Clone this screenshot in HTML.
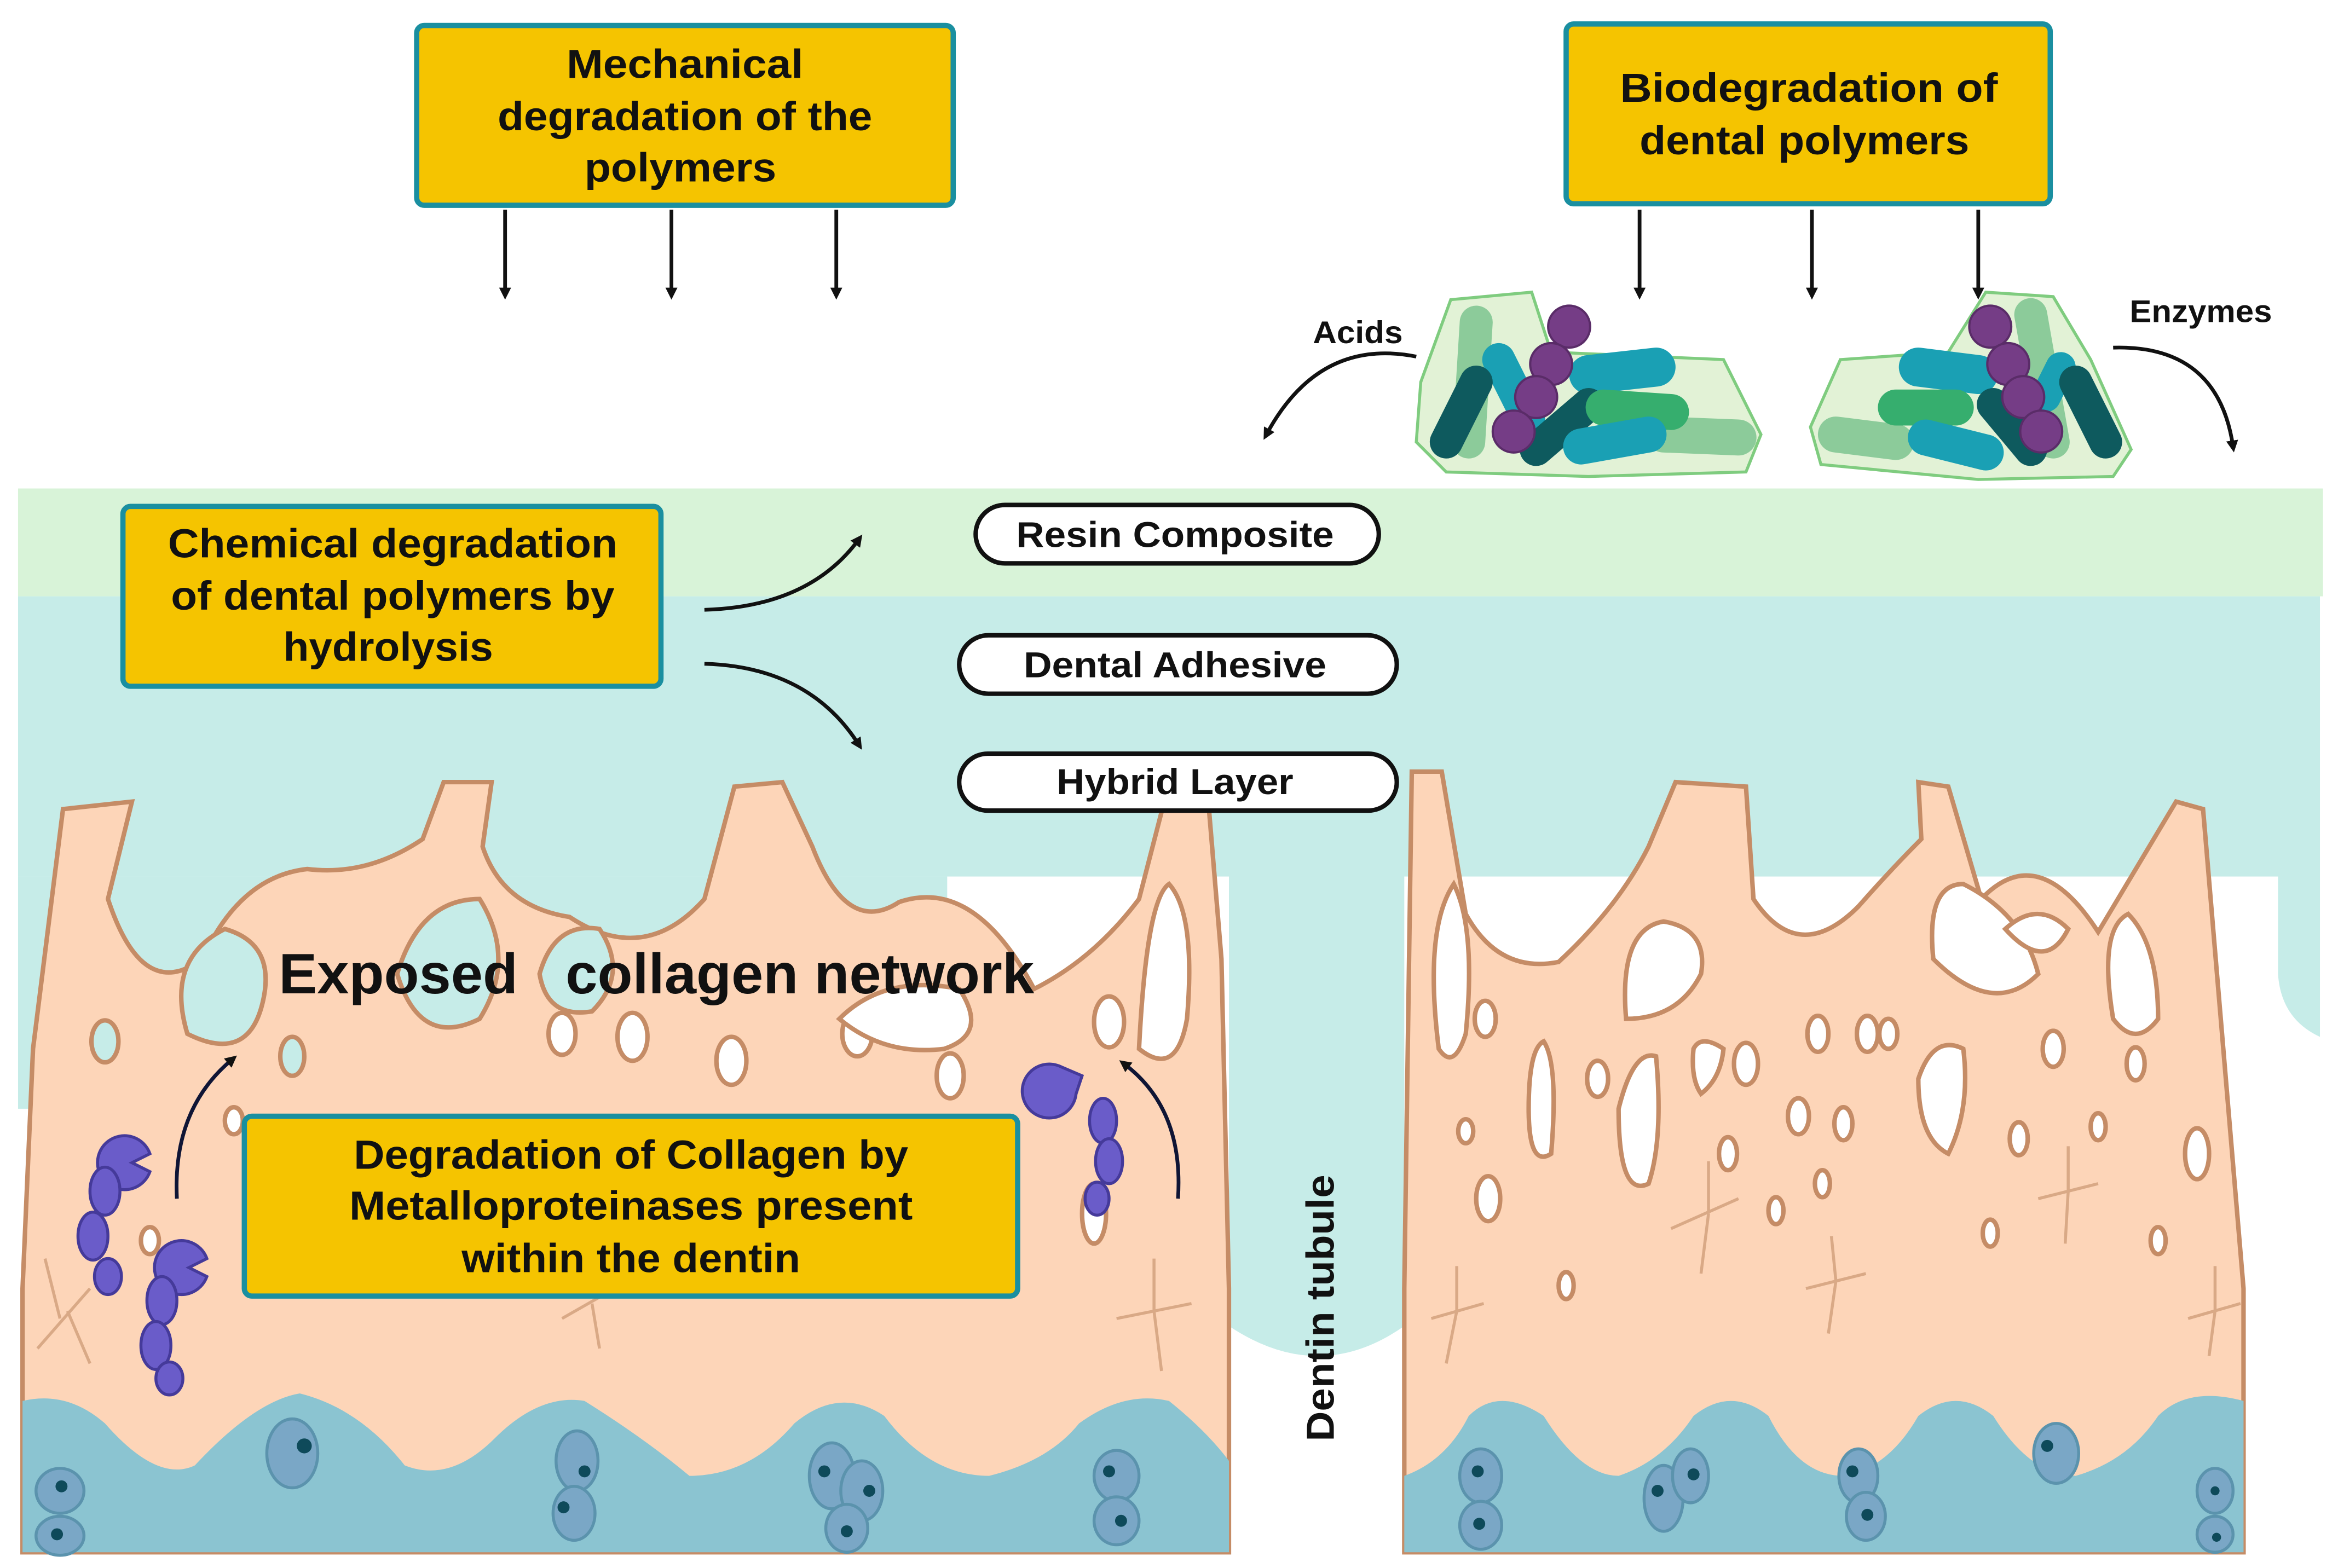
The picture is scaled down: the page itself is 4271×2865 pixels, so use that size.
<!DOCTYPE html>
<html><head><meta charset="utf-8"><style>html,body{margin:0;padding:0;background:#fff}svg{display:block}</style></head>
<body>
<svg width="4271" height="2865" viewBox="0 0 1560 1046.5" xmlns="http://www.w3.org/2000/svg" font-family="Liberation Sans, sans-serif" font-weight="bold">
<defs>
<marker id="ah" markerWidth="8" markerHeight="8" refX="4" refY="4" orient="auto" markerUnits="userSpaceOnUse"><path d="M0,0 L8,4 L0,8 Z" fill="#111"/></marker>
</defs>
<rect width="1560" height="1046.5" fill="#fff"/>
<!-- layers -->
<rect x="12" y="326" width="1538" height="72" fill="#d8f3d8"/>
<rect x="12" y="398" width="1536" height="187" fill="#c6ece8"/>
<rect x="12" y="585" width="620" height="155" fill="#c6ece8"/>
<path d="M1520,585 L1548,585 L1548,692 Q1522,680 1520,650 Z" fill="#c6ece8"/>
<path d="M820,585 L937,585 L937,885 Q880,925 820,885 Z" fill="#c6ece8"/>
<!-- left dentin -->
<path d="M15,1036 L15,860 L22,700 L42,540 L88,535 L72,600 Q95,670 135,640 Q160,585 205,580 Q245,585 282,560 L296,522 L328,522 L322,565 Q335,605 380,612 Q430,645 470,600 L490,525 L522,522 L542,565 Q565,625 600,602 Q650,585 690,660 Q730,640 760,600 L782,515 L805,520 L815,640 L820,860 L820,1036 Z" fill="#fdd5b8" stroke="#c58c66" stroke-width="3"/>
<!-- right dentin -->
<path d="M937,1036 L937,860 L942,515 L962,515 L978,610 Q1000,650 1040,642 Q1080,605 1100,565 L1118,522 L1165,525 L1170,600 Q1200,645 1240,605 Q1262,580 1282,560 L1280,522 L1300,525 L1322,600 Q1360,560 1400,622 L1452,535 L1470,540 L1497,860 L1497,1036 Z" fill="#fdd5b8" stroke="#c58c66" stroke-width="3"/>
<!-- holes left -->
<g fill="#c6ece8" stroke="#c58c66" stroke-width="3">
<path d="M125,690 Q110,640 150,620 Q185,630 175,670 Q165,710 125,690Z"/>
<path d="M265,650 Q280,600 320,600 Q345,640 320,680 Q280,700 265,650Z"/>
<path d="M360,650 Q370,615 400,620 Q420,650 395,675 Q365,680 360,650Z"/>
<ellipse cx="70" cy="695" rx="9" ry="14"/>
<ellipse cx="195" cy="705" rx="8" ry="13"/>
</g>
<g fill="#fff" stroke="#c58c66" stroke-width="3">
<ellipse cx="375" cy="690" rx="9" ry="14"/><ellipse cx="422" cy="692" rx="10" ry="16"/>
<ellipse cx="488" cy="708" rx="10" ry="16"/><ellipse cx="572" cy="690" rx="10" ry="15"/>
<ellipse cx="634" cy="718" rx="9" ry="15"/><ellipse cx="740" cy="682" rx="10" ry="17"/>
<ellipse cx="100" cy="828" rx="6" ry="9"/><ellipse cx="156" cy="748" rx="6" ry="9"/>
<path d="M760,700 Q765,600 780,590 Q798,610 792,680 Q785,720 760,700Z"/>
<path d="M560,680 Q590,650 640,660 Q660,690 630,700 Q590,705 560,680Z"/>
<ellipse cx="730" cy="810" rx="8" ry="20"/>
</g>
<!-- holes right -->
<g fill="#fff" stroke="#c58c66" stroke-width="3">
<path d="M960,700 Q950,620 970,590 Q985,620 978,690 Q970,715 960,700Z"/>
<path d="M1085,680 Q1080,620 1110,615 Q1140,620 1135,650 Q1120,680 1085,680Z"/>
<path d="M1290,640 Q1285,590 1310,590 Q1350,610 1360,650 Q1330,680 1290,640Z"/>
<path d="M1338,620 Q1360,600 1380,620 Q1365,650 1338,620Z"/>
<path d="M1410,680 Q1400,620 1420,610 Q1440,630 1440,680 Q1425,700 1410,680Z"/>
<path d="M1280,720 Q1290,690 1310,700 Q1315,740 1300,770 Q1280,760 1280,720Z"/>
<path d="M1080,740 Q1090,700 1105,705 Q1110,760 1100,790 Q1080,800 1080,740Z"/>
<path d="M1020,740 Q1020,700 1030,695 Q1040,710 1035,770 Q1020,780 1020,740Z"/>
<path d="M1130,700 Q1135,690 1150,700 Q1148,720 1135,730 Q1128,720 1130,700Z"/>
<ellipse cx="991" cy="680" rx="7" ry="12"/><ellipse cx="1066" cy="720" rx="7" ry="12"/>
<ellipse cx="1165" cy="710" rx="8" ry="14"/><ellipse cx="1213" cy="690" rx="7" ry="12"/>
<ellipse cx="1246" cy="690" rx="7" ry="12"/><ellipse cx="1200" cy="745" rx="7" ry="12"/>
<ellipse cx="1230" cy="750" rx="6" ry="11"/><ellipse cx="1260" cy="690" rx="6" ry="10"/>
<ellipse cx="1370" cy="700" rx="7" ry="12"/><ellipse cx="1425" cy="710" rx="6" ry="11"/>
<ellipse cx="1466" cy="770" rx="8" ry="17"/><ellipse cx="1400" cy="752" rx="5" ry="9"/>
<ellipse cx="993" cy="800" rx="8" ry="15"/><ellipse cx="978" cy="755" rx="5" ry="8"/>
<ellipse cx="1153" cy="770" rx="6" ry="11"/><ellipse cx="1185" cy="808" rx="5" ry="9"/>
<ellipse cx="1216" cy="790" rx="5" ry="9"/><ellipse cx="1045" cy="858" rx="5" ry="9"/>
<ellipse cx="1328" cy="823" rx="5" ry="9"/><ellipse cx="1347" cy="760" rx="6" ry="11"/>
<ellipse cx="1440" cy="828" rx="5" ry="9"/>
</g>
<!-- odontoblast-like cells faint -->
<g stroke="#d9a986" stroke-width="2" fill="none">
<path d="M25,900 L60,860 M40,880 L30,840 M45,875 L60,910"/>
<path d="M375,880 L410,860 M395,870 L400,900 M390,865 L400,840"/>
<path d="M745,880 L795,870 M770,875 L770,840 M770,875 L775,915"/>
<path d="M955,880 L990,870 M972,875 L972,845 M972,875 L965,910"/>
<path d="M1115,820 L1160,800 M1140,810 L1140,775 M1140,810 L1135,850"/>
<path d="M1205,860 L1245,850 M1225,855 L1222,825 M1225,855 L1220,890"/>
<path d="M1360,800 L1400,790 M1380,795 L1380,765 M1380,795 L1378,830"/>
<path d="M1460,880 L1495,870 M1478,875 L1478,845 M1478,875 L1474,905"/>
</g>
<!-- pulp -->
<path d="M15,1036 L15,935 Q45,928 70,950 Q105,990 130,978 Q170,935 200,930 Q240,940 270,978 Q300,990 330,960 Q360,930 390,935 Q430,960 460,985 Q500,985 530,950 Q560,925 590,945 Q620,985 660,985 Q700,975 720,950 Q750,928 780,935 Q805,955 820,975 L820,1036 Z" fill="#8bc4d1"/>
<path d="M937,1036 L937,985 Q965,975 980,945 Q1000,925 1030,945 Q1055,985 1080,985 Q1110,975 1130,945 Q1155,925 1180,945 Q1200,985 1230,985 Q1260,980 1280,945 Q1305,925 1330,945 Q1355,985 1385,985 Q1420,975 1440,945 Q1460,925 1497,935 L1497,1036 Z" fill="#8bc4d1"/>
<g fill="#7aa7c6" stroke="#5b93ad" stroke-width="2">
<ellipse cx="40" cy="995" rx="16" ry="15"/><ellipse cx="40" cy="1025" rx="16" ry="13"/>
<ellipse cx="195" cy="970" rx="17" ry="23"/>
<ellipse cx="385" cy="975" rx="14" ry="20"/><ellipse cx="383" cy="1010" rx="14" ry="18"/>
<ellipse cx="555" cy="985" rx="15" ry="22"/><ellipse cx="575" cy="995" rx="14" ry="20"/><ellipse cx="565" cy="1020" rx="14" ry="16"/>
<ellipse cx="745" cy="985" rx="15" ry="17"/><ellipse cx="745" cy="1015" rx="15" ry="16"/>
<ellipse cx="988" cy="985" rx="14" ry="18"/><ellipse cx="988" cy="1018" rx="14" ry="16"/>
<ellipse cx="1110" cy="1000" rx="13" ry="22"/><ellipse cx="1128" cy="985" rx="12" ry="18"/>
<ellipse cx="1240" cy="985" rx="13" ry="18"/><ellipse cx="1245" cy="1012" rx="13" ry="16"/>
<ellipse cx="1372" cy="970" rx="15" ry="20"/>
<ellipse cx="1478" cy="995" rx="12" ry="15"/><ellipse cx="1478" cy="1024" rx="12" ry="12"/>
</g>
<g fill="#0e4a5a"><circle cx="41" cy="992" r="4"/><circle cx="38" cy="1024" r="4"/><circle cx="203" cy="965" r="5"/><circle cx="390" cy="982" r="4"/><circle cx="376" cy="1006" r="4"/><circle cx="550" cy="982" r="4"/><circle cx="580" cy="995" r="4"/><circle cx="565" cy="1022" r="4"/><circle cx="740" cy="982" r="4"/><circle cx="748" cy="1015" r="4"/><circle cx="986" cy="982" r="4"/><circle cx="987" cy="1017" r="4"/><circle cx="1106" cy="995" r="4"/><circle cx="1130" cy="984" r="4"/><circle cx="1236" cy="982" r="4"/><circle cx="1246" cy="1011" r="4"/><circle cx="1366" cy="965" r="4"/><circle cx="1478" cy="995" r="3"/><circle cx="1479" cy="1026" r="3"/></g>
<!-- MMP enzymes -->
<g fill="#6a5cc9" stroke="#453a9a" stroke-width="2">
<path d="M100,770 A18,18 0 1 0 100,782 L88,776 Z"/>
<ellipse cx="70" cy="795" rx="10" ry="16"/><ellipse cx="62" cy="825" rx="10" ry="16"/><ellipse cx="72" cy="852" rx="9" ry="12"/>
<path d="M138,840 A18,18 0 1 0 138,852 L126,846 Z"/>
<ellipse cx="108" cy="868" rx="10" ry="16"/><ellipse cx="104" cy="898" rx="10" ry="16"/><ellipse cx="113" cy="920" rx="9" ry="11"/>
<path d="M708,712 A18,18 0 1 0 718,730 L722,718 Z"/>
<ellipse cx="736" cy="748" rx="9" ry="15"/><ellipse cx="740" cy="775" rx="9" ry="15"/><ellipse cx="732" cy="800" rx="8" ry="11"/>
</g>
<g fill="none" stroke="#0f1535" stroke-width="2.5">
<path d="M118,800 Q115,740 155,707" marker-end="url(#ah)"/>
<path d="M786,800 Q790,740 750,710" marker-end="url(#ah)"/>
</g>
<!-- bacteria clusters -->
<path d="M968,200 L1022,195 L1035,235 L1150,240 L1175,290 L1165,315 L1060,318 L965,315 L945,295 L948,255 Z" fill="#e2f2d6" stroke="#7fcc7f" stroke-width="2"/>
<path d="M1228,240 L1300,235 L1325,195 L1370,198 L1395,240 L1422,300 L1410,318 L1320,320 L1215,310 L1208,285 Z" fill="#e2f2d6" stroke="#7fcc7f" stroke-width="2"/>
<g stroke-linecap="round" fill="none">
<line x1="985" y1="215" x2="980" y2="295" stroke="#8ccb9a" stroke-width="22"/>
<line x1="1110" y1="290" x2="1160" y2="292" stroke="#8ccb9a" stroke-width="24"/>
<line x1="1000" y1="240" x2="1020" y2="280" stroke="#1aa0b4" stroke-width="22"/>
<line x1="965" y1="295" x2="985" y2="255" stroke="#0e5a5e" stroke-width="22"/>
<line x1="1060" y1="250" x2="1105" y2="245" stroke="#1aa0b4" stroke-width="26"/>
<line x1="1025" y1="300" x2="1060" y2="270" stroke="#0e5a5e" stroke-width="22"/>
<line x1="1070" y1="272" x2="1115" y2="275" stroke="#36ae6e" stroke-width="24"/>
<line x1="1055" y1="298" x2="1100" y2="290" stroke="#1aa0b4" stroke-width="24"/>
<line x1="1355" y1="210" x2="1370" y2="295" stroke="#8ccb9a" stroke-width="22"/>
<line x1="1225" y1="290" x2="1265" y2="295" stroke="#8ccb9a" stroke-width="24"/>
<line x1="1280" y1="245" x2="1320" y2="250" stroke="#1aa0b4" stroke-width="26"/>
<line x1="1265" y1="272" x2="1305" y2="272" stroke="#36ae6e" stroke-width="24"/>
<line x1="1330" y1="270" x2="1355" y2="300" stroke="#0e5a5e" stroke-width="22"/>
<line x1="1285" y1="292" x2="1325" y2="302" stroke="#1aa0b4" stroke-width="24"/>
<line x1="1375" y1="245" x2="1365" y2="265" stroke="#1aa0b4" stroke-width="20"/>
<line x1="1385" y1="255" x2="1405" y2="295" stroke="#0e5a5e" stroke-width="22"/>
</g>
<g fill="#753d86" stroke="#5a2c68" stroke-width="1.5">
<circle cx="1047" cy="218" r="14"/><circle cx="1035" cy="243" r="14"/><circle cx="1025" cy="265" r="14"/><circle cx="1010" cy="288" r="14"/>
<circle cx="1328" cy="218" r="14"/><circle cx="1340" cy="243" r="14"/><circle cx="1350" cy="265" r="14"/><circle cx="1362" cy="288" r="14"/>
</g>
<!-- arrows -->
<g stroke="#111" stroke-width="2.5" fill="none">
<line x1="337" y1="140" x2="337" y2="196" marker-end="url(#ah)"/>
<line x1="448" y1="140" x2="448" y2="196" marker-end="url(#ah)"/>
<line x1="558" y1="140" x2="558" y2="196" marker-end="url(#ah)"/>
<line x1="1094" y1="140" x2="1094" y2="196" marker-end="url(#ah)"/>
<line x1="1209" y1="140" x2="1209" y2="196" marker-end="url(#ah)"/>
<line x1="1320" y1="140" x2="1320" y2="196" marker-end="url(#ah)"/>
<path d="M945,238 Q880,225 845,290" marker-end="url(#ah)"/>
<path d="M1410,232 Q1480,230 1490,298" marker-end="url(#ah)"/>
<path d="M470,407 Q540,405 573,360" marker-end="url(#ah)"/>
<path d="M470,443 Q540,445 573,497" marker-end="url(#ah)"/>
</g>
<!-- boxes -->
<g fill="#f5c400" stroke="#1a8fa0" stroke-width="3.5">
<rect x="278" y="17" width="358" height="120" rx="5"/>
<rect x="1045" y="16" width="323" height="120" rx="5"/>
<rect x="82" y="338" width="359" height="120" rx="5"/>
<rect x="163" y="745" width="516" height="120" rx="5"/>
</g>
<g font-size="27" text-anchor="middle" fill="#111">
<text x="457" y="52" textLength="158" lengthAdjust="spacingAndGlyphs">Mechanical</text>
<text x="457" y="87" textLength="250" lengthAdjust="spacingAndGlyphs">degradation of the</text>
<text x="454" y="121" textLength="128" lengthAdjust="spacingAndGlyphs">polymers</text>
<text x="1207" y="68" textLength="252" lengthAdjust="spacingAndGlyphs">Biodegradation  of</text>
<text x="1204" y="103" textLength="220" lengthAdjust="spacingAndGlyphs">dental polymers</text>
<text x="262" y="372" textLength="300" lengthAdjust="spacingAndGlyphs">Chemical degradation</text>
<text x="262" y="407" textLength="296" lengthAdjust="spacingAndGlyphs">of dental polymers by</text>
<text x="259" y="441" textLength="140" lengthAdjust="spacingAndGlyphs">hydrolysis</text>
<text x="421" y="780" textLength="370" lengthAdjust="spacingAndGlyphs">Degradation of Collagen by</text>
<text x="421" y="814" textLength="376" lengthAdjust="spacingAndGlyphs">Metalloproteinases present</text>
<text x="421" y="849" textLength="226" lengthAdjust="spacingAndGlyphs">within the dentin</text>
</g>
<!-- pills -->
<g fill="#fff" stroke="#111" stroke-width="3">
<rect x="651" y="337" width="269" height="39" rx="19.5"/>
<rect x="640" y="424" width="292" height="39" rx="19.5"/>
<rect x="640" y="503" width="292" height="38" rx="19"/>
</g>
<g font-size="24" text-anchor="middle" fill="#111">
<text x="784" y="365" textLength="212" lengthAdjust="spacingAndGlyphs">Resin Composite</text>
<text x="784" y="452" textLength="202" lengthAdjust="spacingAndGlyphs">Dental Adhesive</text>
<text x="784" y="530" textLength="158" lengthAdjust="spacingAndGlyphs">Hybrid Layer</text>
</g>
<g font-size="21" fill="#111">
<text x="876" y="229" textLength="60" lengthAdjust="spacingAndGlyphs">Acids</text>
<text x="1421" y="215" textLength="95" lengthAdjust="spacingAndGlyphs">Enzymes</text>
</g>
<text x="186" y="663" font-size="38" fill="#111" textLength="504" lengthAdjust="spacingAndGlyphs" xml:space="preserve">Exposed   collagen network</text>
<text transform="translate(890,962) rotate(-90)" font-size="26" fill="#111" textLength="178" lengthAdjust="spacingAndGlyphs">Dentin tubule</text>
</svg>
</body></html>
